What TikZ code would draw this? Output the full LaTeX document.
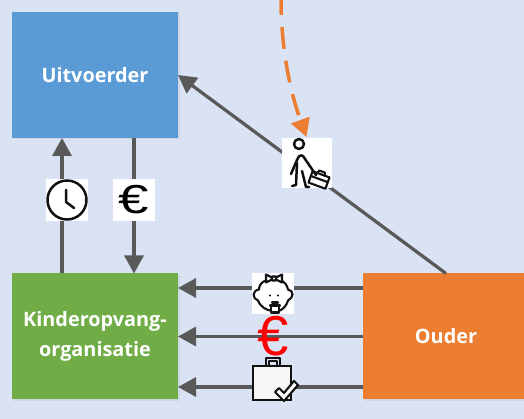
\documentclass[tikz,border=0pt]{standalone}
\usepackage{fontspec}
\setmainfont{Open Sans}
\newfontfamily\eurofont{Liberation Sans}
\usetikzlibrary{positioning,arrows.meta,calc,shadows}

\definecolor{pagebg}{HTML}{DAE3F3}
\definecolor{uitblue}{HTML}{5B9BD5}
\definecolor{kindgreen}{HTML}{70AD47}
\definecolor{ouderorange}{HTML}{ED7D31}
\definecolor{linegray}{HTML}{595959}
\definecolor{iconink}{HTML}{111111}

\begin{document}
\begin{tikzpicture}[
  party/.style={
    rectangle, minimum width=3.32cm, minimum height=2.52cm, inner sep=0pt, outer sep=0pt,
    text=white, align=center, font=\fontsize{11.3}{17}\selectfont\bfseries,
    drop shadow={shadow xshift=0.03cm, shadow yshift=-0.03cm, opacity=0.12}
  },
  flow/.style={-{Triangle[length=0.36cm, width=0.38cm]}, line width=0.065cm, linegray},
  iconbox/.style={rectangle, fill=white, inner sep=0pt, outer sep=0pt, minimum size=#1},
  ink/.style={draw=iconink, line width=0.05cm, line cap=round, line join=round},
  thinink/.style={draw=iconink, line width=0.042cm, line cap=round, line join=round},
  local/.style={shift={(#1)}, x=0.02cm, y=-0.02cm}
]

% === Background ===
\fill[pagebg] (0,0) rectangle (10.48,8.38);
\useasboundingbox (0,0) rectangle (10.48,8.38);

% === Party boxes ===
\node[party, fill=uitblue] (uit) at (1.9,6.88) {Uitvoerder};
\node[party, fill=kindgreen] (kind) at (1.9,1.65) {Kinderopvang-\\organisatie};
\node[party, fill=ouderorange] (ouder) at (8.92,1.65) {Ouder};

% === Free ends of the connectors ===
\coordinate (hoursfrom) at ($(kind.north)+(-0.66,0)$);
\coordinate (hoursto) at ($(uit.south)+(-0.66,0)$);
\coordinate (payfrom) at ($(uit.south)+(0.78,0)$);
\coordinate (payto) at ($(kind.north)+(0.78,0)$);
\coordinate (dashfrom) at (5.62,8.38);
\coordinate (dashto) at (6.13,5.64);

% === Main flow arrows ===
\draw[flow] (hoursfrom) -- (hoursto);
\draw[flow] (payfrom) -- (payto);
\draw[flow] (ouder.north) -- (uit.east);
\draw[flow] ($(ouder.west)+(0,0.97)$) -- ($(kind.east)+(0,0.97)$);
\draw[flow] (ouder.west) -- (kind.east);
\draw[flow] ($(ouder.west)+(0,-1.01)$) -- ($(kind.east)+(0,-1.01)$);

% === Dashed orange arrow ===
\draw[-{Triangle[length=0.36cm, width=0.38cm]}, line width=0.07cm, ouderorange, dash pattern=on 0.44cm off 0.24cm, dash phase=0.14cm]
  (dashfrom) .. controls (5.62,7.5) and (5.78,6.6) .. (dashto);

% === Clock icon ===
\node[iconbox=0.84cm] (clock) at (1.34,4.38) {};
\begin{scope}[local=clock.center]
  \draw[ink] (0,0) circle (19.5);
  \draw[ink] (-1,-10) -- (-1,2) -- (7,8);
\end{scope}

% === Euro icon ===
\node[iconbox=0.84cm, font=\eurofont\fontsize{23}{23}\selectfont, text=black] (euro) at (2.68,4.38) {\scalebox{1.35}[1]{€}};

% === Walker icon ===
\node[iconbox=1cm] (walker) at (6.14,5.12) {};
\begin{scope}[local=walker.center]
  \draw[ink] (-8,-19) circle (5);
  \draw[ink] (-16,11) -- (-10,-3) .. controls (-8,-9) and (-4,-9) .. (-2,-4) -- (9,12);
  \draw[ink] (-10,0) -- (-11,22) -- (-15,23);
  \draw[ink] (-5,8) -- (-1,24) -- (2,24);
  \draw[thinink, rotate around={-20:(12,17)}] (3,11) rectangle (21,23);
  \draw[thinink, rotate around={-20:(12,17)}] (8,11) -- (9,8) -- (15,8) -- (16,11) (3,16) -- (21,16);
\end{scope}

% === Baby icon ===
\node[iconbox=0.83cm] (baby) at (5.46,2.51) {};
\begin{scope}[local=baby.center]
  \draw[thinink] (-6,-13) .. controls (-13,-12) and (-14,-6) .. (-14,-4)
    .. controls (-21,-3) and (-21,5) .. (-15,7)
    .. controls (-12,14) and (-7,16) .. (-3,17)
    (7,17) .. controls (11,15) and (14,11) .. (15,7)
    .. controls (21,4) and (21,-3) .. (15,-4)
    .. controls (14,-9) and (11,-12) .. (8,-13);
  \draw[thinink, fill=white] (-1,-16) -- (-7,-19) -- (-7,-11) -- (-1,-14)
    (3,-16) -- (9,-19) -- (9,-11) -- (3,-14) (-1,-17) rectangle (3,-13);
  \fill[iconink] (-3,2) circle (1.2) (5,2) circle (1.2);
  \draw[thinink] (-1,9) -- (5,9) (-3,12) -- (7,12) (-2,12) -- (-2,19) -- (6,19) -- (6,12);
\end{scope}

% === Red euro ===
\node[inner sep=0pt, font=\eurofont\fontsize{32}{32}\selectfont, text=red] (redeuro) at (5.47,1.66) {€};

% === Bag icon ===
\node[iconbox=0.76cm, minimum height=0.68cm, fill=white!97!black, draw=iconink, line width=0.045cm] (bag) at (5.44,0.72) {};
\begin{scope}[local=bag.center]
  \draw[thinink, line width=0.05cm] (-6,-17) -- (-6,-25) -- (8,-25) -- (8,-17);
  \draw[thinink] (-3,-17) -- (-3,-22) -- (5,-22) -- (5,-17);
  \draw[thinink, fill=white] (3,9) -- (7,5) -- (12,10) -- (22,-2) -- (26,2) -- (12,18) -- cycle;
\end{scope}

\end{tikzpicture}
\end{document}
